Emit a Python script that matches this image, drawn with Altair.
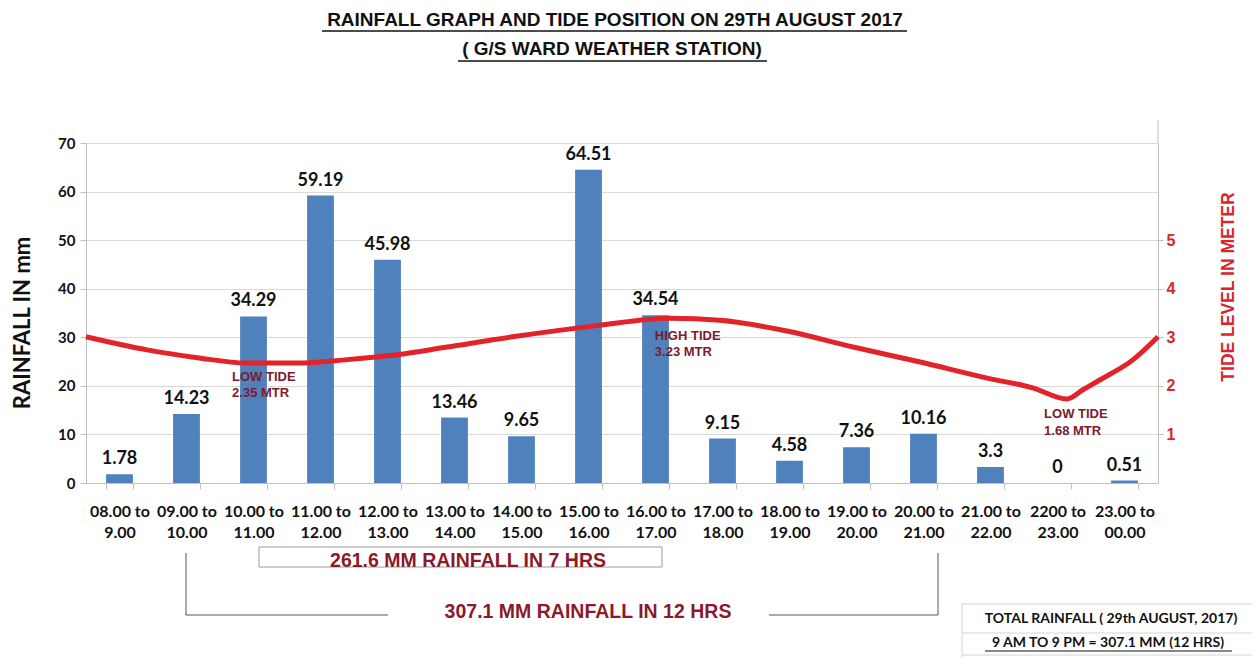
import altair as alt
import pandas as pd

# ---------------- data ----------------
categories = ["08.00 to 9.00", "09.00 to 10.00", "10.00 to 11.00", "11.00 to 12.00",
              "12.00 to 13.00", "13.00 to 14.00", "14.00 to 15.00", "15.00 to 16.00",
              "16.00 to 17.00", "17.00 to 18.00", "18.00 to 19.00", "19.00 to 20.00",
              "20.00 to 21.00", "21.00 to 22.00", "2200 to 23.00", "23.00 to 00.00"]
rainfall = [1.78, 14.23, 34.29, 59.19, 45.98, 13.46, 9.65, 64.51,
            34.54, 9.15, 4.58, 7.36, 10.16, 3.3, 0, 0.51]
rain_labels = ["1.78", "14.23", "34.29", "59.19", "45.98", "13.46", "9.65", "64.51",
               "34.54", "9.15", "4.58", "7.36", "10.16", "3.3", "0", "0.51"]

# tide curve, position in hour slots from the left edge, level in metres
tide_pos = [0, 0.91, 1.66, 2.40, 3.15, 3.90, 4.64, 5.39, 6.37, 7.63, 8.72, 9.46,
            10.46, 11.45, 12.45, 13.45, 14.13, 14.64, 14.88, 15.13, 15.63, 16]
tide_level = [3.01, 2.74, 2.58, 2.47, 2.47, 2.54, 2.64, 2.80, 3.01, 3.24, 3.39, 3.35,
              3.13, 2.80, 2.49, 2.16, 1.96, 1.73, 1.92, 2.12, 2.54, 3.01]

note_text = ["LOW TIDE", "2.35 MTR", "HIGH TIDE", "3.23 MTR", "LOW TIDE", "1.68 MTR"]
note_pos = [2.18, 2.18, 8.49, 8.49, 14.3, 14.3]
note_level = [2.19, 1.86, 3.03, 2.70, 1.42, 1.07]

W, H = 1072, 340
BLUE = "#4f81bd"
RED = "#e3232a"
MAROON = "#7d1a2c"
NARROW = "Liberation Sans Narrow, Arial Narrow, Liberation Sans"

rain_df = pd.DataFrame({"slot": categories, "rain": rainfall, "label": rain_labels})
tide_df = pd.DataFrame({"pos": tide_pos, "tide": tide_level})
note_df = pd.DataFrame({"pos": note_pos, "tide": note_level, "text": note_text})

xband = alt.Scale(domain=categories, paddingInner=0.6, paddingOuter=0.3)
yrain = alt.Scale(domain=[0, 70], nice=False)
xq = alt.Scale(domain=[0, 16], nice=False, zero=False)
ytide = alt.Scale(domain=[0, 7], nice=False)

label_expr = ("[slice(datum.label, 0, indexof(datum.label, ' to') + 3), "
              "slice(datum.label, indexof(datum.label, ' to') + 4)]")

bars = alt.Chart(rain_df).mark_bar(color=BLUE).encode(
    x=alt.X("slot:N", scale=xband, sort=categories,
            axis=alt.Axis(title=None, labelAngle=0, labelExpr=label_expr, tickBand="extent",
                          labelFont="Lato", labelFontSize=16, labelFontWeight="bold",
                          labelColor="#111111", labelLineHeight=21, labelBaseline="top",
                          labelPadding=14, tickSize=6, labelOverlap=False,
                          domainColor="#bfbfbf", tickColor="#bfbfbf")),
    y=alt.Y("rain:Q", scale=yrain,
            axis=alt.Axis(title=None, values=list(range(0, 71, 10)), grid=True,
                          gridColor="#d9d9d9", labelFont="Lato", labelFontSize=15,
                          labelFontWeight="bold", labelColor="#111111", tickSize=6,
                          labelPadding=5, domainColor="#bfbfbf", tickColor="#bfbfbf")),
)

values = alt.Chart(rain_df).mark_text(baseline="bottom", dy=-6, font="Lato", fontSize=18,
                                      fontWeight="bold", color="#111111").encode(
    x=alt.X("slot:N", scale=xband, sort=categories, axis=None),
    y=alt.Y("rain:Q", scale=yrain, axis=None),
    text="label:N",
)

tide = alt.Chart(tide_df).mark_line(color=RED, strokeWidth=5, interpolate="monotone").encode(
    x=alt.X("pos:Q", scale=xq, axis=None),
    y=alt.Y("tide:Q", scale=ytide,
            axis=alt.Axis(orient="right", title=None, values=[1, 2, 3, 4, 5], grid=False,
                          labelColor="#d9262c", labelFont=NARROW, labelFontSize=16,
                          labelFontWeight="bold", tickSize=5, labelPadding=3,
                          domainColor="#bfbfbf", tickColor="#bfbfbf")),
)

notes = alt.Chart(note_df).mark_text(align="left", baseline="middle", font=NARROW,
                                     fontSize=13, fontWeight="bold", color=MAROON).encode(
    x=alt.X("pos:Q", scale=xq, axis=None),
    y=alt.Y("tide:Q", scale=ytide, axis=None),
    text="text:N",
)


def txt(t, x, y, **style):
    return alt.Chart(pd.DataFrame({"t": [t]})).mark_text(**style).encode(
        x=alt.value(x), y=alt.value(y), text="t:N")


def hline(x1, x2, y, color, width=1):
    return alt.Chart(pd.DataFrame({"a": [0]})).mark_rule(color=color, strokeWidth=width).encode(
        x=alt.value(x1), x2=alt.value(x2), y=alt.value(y))


def vline(x, y1, y2, color, width=1):
    return alt.Chart(pd.DataFrame({"a": [0]})).mark_rule(color=color, strokeWidth=width).encode(
        x=alt.value(x), y=alt.value(y1), y2=alt.value(y2))


title_style = dict(font=NARROW, fontSize=19, fontWeight="bold", color="#111111",
                   align="center", baseline="middle")
deco = [
    txt("RAINFALL GRAPH AND TIDE POSITION ON 29TH AUGUST 2017", 529, -123, **title_style),
    hline(236, 821, -112, "#111111", 1.5),
    txt("( G/S WARD WEATHER STATION)", 526, -94, **title_style),
    hline(372, 681, -82, "#111111", 1.5),
    txt("RAINFALL IN mm", -63, 180, font="Lato", fontSize=22, fontWeight="bold",
        color="#111111", angle=270, align="center", baseline="middle"),
    txt("TIDE LEVEL IN METER", 1143, 144, font=NARROW, fontSize=17.5, fontWeight="bold",
        color="#d9262c", angle=270, align="center", baseline="middle"),
    vline(W, -23, 0, "#bfbfbf"),
    # 7 hour box
    alt.Chart(pd.DataFrame({"a": [0]})).mark_rect(fill="white", stroke="#9a9a9a",
                                                  strokeWidth=1).encode(
        x=alt.value(173), x2=alt.value(576), y=alt.value(404), y2=alt.value(424)),
    txt("261.6 MM RAINFALL IN 7 HRS", 382, 418, font=NARROW, fontSize=19.5,
        fontWeight="bold", color="#8b1a2b", align="center", baseline="middle"),
    # 12 hour bracket
    vline(100, 410, 472, "#555555"),
    hline(100, 302, 472, "#555555"),
    hline(683, 852, 472, "#555555"),
    vline(852, 410, 472, "#555555"),
    txt("307.1 MM RAINFALL IN 12 HRS", 502, 469, font=NARROW, fontSize=19.5,
        fontWeight="bold", color="#8b1a2b", align="center", baseline="middle"),
    # total table
    hline(876, 1170, 461, "#d4d4d4"),
    hline(876, 1170, 490, "#d4d4d4"),
    hline(876, 1170, 512, "#d4d4d4"),
    vline(876, 461, 520, "#d4d4d4"),
    txt("TOTAL RAINFALL ( 29th AUGUST, 2017)", 1025, 476, font="Lato", fontSize=14,
        fontWeight="bold", color="#111111", align="center", baseline="middle"),
    txt("9 AM TO 9 PM = 307.1 MM (12 HRS)", 1022, 500, font="Lato", fontSize=14,
        fontWeight="bold", color="#111111", align="center", baseline="middle"),
    hline(899, 1146, 508, "#111111", 1.2),
]

chart = alt.layer(bars, values, tide, notes, *deco).resolve_scale(
    x="independent", y="independent"
).properties(
    width=W, height=H,
    autosize=alt.AutoSizeParams(type="none"),
    padding={"left": 78, "top": 135, "right": 94, "bottom": 175},
    background="white",
).configure_view(stroke=None)

chart.save("out.html", embed_options={"renderer": "svg", "actions": False})
